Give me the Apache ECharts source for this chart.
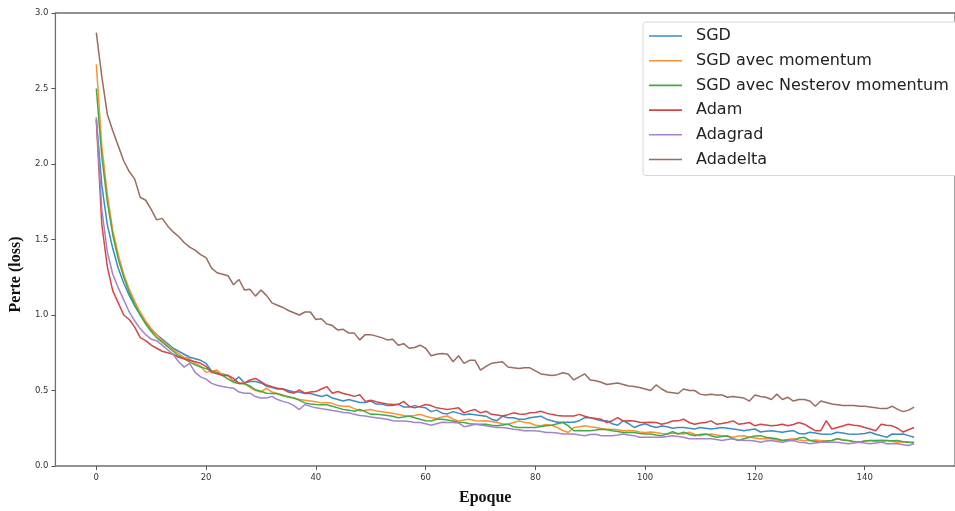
<!DOCTYPE html>
<html>
<head>
<meta charset="utf-8">
<script src="https://cdn.jsdelivr.net/npm/echarts@6/dist/echarts.min.js"></script>
<style>
html,body{margin:0;padding:0;background:#fff;}
#chart{width:955px;height:511px;}
</style>
</head>
<body>
<div id="chart"></div>
<script>
const seriesNames = ["SGD", "SGD avec momentum", "SGD avec Nesterov momentum", "Adam", "Adagrad", "Adadelta"];
const xTicks = [0, 20, 40, 60, 80, 100, 120, 140];
const yTicks = [0.0, 0.5, 1.0, 1.5, 2.0, 2.5, 3.0];

const sgd = [2.30,1.86,1.60,1.44,1.31,1.21,1.13,1.06,1.00,0.95,0.90,0.87,0.84,0.81,0.78,0.76,0.74,0.72,0.71,0.70,
0.68,0.63,0.62,0.61,0.60,0.56,0.59,0.55,0.56,0.56,0.55,0.53,0.52,0.51,0.51,0.50,0.49,0.49,0.48,0.48,
0.47,0.46,0.47,0.45,0.44,0.43,0.44,0.43,0.42,0.42,0.43,0.41,0.41,0.40,0.40,0.41,0.39,0.39,0.40,0.39,
0.385,0.36,0.37,0.35,0.345,0.36,0.35,0.34,0.345,0.34,0.335,0.33,0.31,0.30,0.33,0.32,0.32,0.31,0.31,0.32,
0.325,0.33,0.31,0.30,0.29,0.29,0.29,0.29,0.30,0.32,0.32,0.31,0.30,0.30,0.28,0.27,0.30,0.28,0.255,0.27,
0.28,0.265,0.255,0.265,0.26,0.25,0.255,0.255,0.25,0.245,0.255,0.25,0.245,0.25,0.255,0.25,0.245,0.24,0.234,0.24,
0.245,0.225,0.23,0.234,0.228,0.223,0.23,0.234,0.215,0.212,0.223,0.218,0.212,0.21,0.212,0.223,0.218,0.212,0.21,0.212,
0.215,0.223,0.21,0.201,0.19,0.212,0.21,0.212,0.201,0.19];

const sgdMomentum = [2.66,2.12,1.80,1.56,1.40,1.27,1.17,1.09,1.02,0.96,0.91,0.87,0.83,0.80,0.77,0.745,0.72,0.71,0.68,0.66,
0.62,0.63,0.635,0.60,0.60,0.56,0.55,0.545,0.52,0.50,0.49,0.515,0.49,0.48,0.47,0.455,0.45,0.44,0.435,0.43,
0.425,0.418,0.42,0.415,0.40,0.395,0.396,0.38,0.365,0.37,0.374,0.365,0.36,0.355,0.35,0.342,0.335,0.33,0.335,0.342,
0.33,0.32,0.315,0.325,0.331,0.31,0.298,0.305,0.309,0.30,0.298,0.30,0.295,0.288,0.28,0.277,0.288,0.298,0.29,0.285,
0.27,0.266,0.275,0.27,0.255,0.235,0.222,0.255,0.26,0.266,0.26,0.255,0.248,0.244,0.244,0.24,0.233,0.235,0.233,0.225,
0.222,0.225,0.222,0.215,0.212,0.218,0.215,0.212,0.223,0.21,0.201,0.208,0.212,0.205,0.201,0.195,0.19,0.198,0.20,0.19,
0.185,0.18,0.182,0.18,0.172,0.169,0.175,0.18,0.172,0.169,0.169,0.172,0.169,0.165,0.169,0.18,0.172,0.169,0.162,0.158,
0.165,0.169,0.162,0.158,0.169,0.162,0.158,0.16,0.158,0.15];

const sgdNesterov = [2.50,2.05,1.75,1.53,1.37,1.25,1.15,1.07,1.00,0.94,0.89,0.85,0.82,0.79,0.76,0.73,0.71,0.69,0.67,0.655,
0.645,0.63,0.615,0.60,0.575,0.555,0.547,0.545,0.53,0.505,0.495,0.482,0.48,0.478,0.465,0.458,0.45,0.435,0.418,0.41,
0.407,0.405,0.405,0.396,0.385,0.374,0.37,0.363,0.374,0.36,0.342,0.342,0.34,0.335,0.33,0.32,0.325,0.331,0.32,0.309,
0.30,0.298,0.31,0.31,0.305,0.298,0.29,0.288,0.28,0.277,0.277,0.277,0.27,0.266,0.272,0.277,0.26,0.255,0.255,0.255,
0.255,0.262,0.266,0.27,0.28,0.288,0.266,0.233,0.235,0.233,0.233,0.238,0.244,0.24,0.233,0.228,0.222,0.222,0.222,0.215,
0.212,0.212,0.205,0.201,0.212,0.228,0.212,0.223,0.21,0.201,0.208,0.212,0.20,0.19,0.195,0.201,0.18,0.169,0.18,0.19,
0.198,0.201,0.19,0.185,0.18,0.169,0.172,0.169,0.185,0.19,0.169,0.162,0.158,0.165,0.169,0.18,0.172,0.169,0.16,0.158,
0.165,0.169,0.169,0.17,0.169,0.168,0.169,0.16,0.158,0.158];

const adam = [2.29,1.60,1.32,1.16,1.08,1.00,0.97,0.92,0.85,0.83,0.80,0.78,0.76,0.75,0.74,0.72,0.71,0.70,0.69,0.68,
0.66,0.62,0.61,0.60,0.60,0.58,0.547,0.55,0.57,0.58,0.558,0.536,0.525,0.515,0.51,0.49,0.482,0.504,0.482,0.49,
0.493,0.51,0.526,0.482,0.493,0.48,0.472,0.461,0.472,0.428,0.435,0.425,0.418,0.41,0.407,0.407,0.428,0.396,0.385,0.395,
0.407,0.40,0.385,0.38,0.374,0.38,0.385,0.352,0.365,0.374,0.352,0.363,0.342,0.338,0.331,0.34,0.352,0.345,0.342,0.352,
0.355,0.363,0.35,0.342,0.335,0.331,0.331,0.331,0.342,0.33,0.32,0.315,0.309,0.288,0.30,0.32,0.298,0.30,0.298,0.29,
0.288,0.29,0.288,0.277,0.285,0.298,0.299,0.31,0.288,0.277,0.285,0.288,0.299,0.277,0.282,0.288,0.299,0.277,0.282,0.288,
0.266,0.277,0.272,0.266,0.27,0.277,0.266,0.275,0.288,0.277,0.255,0.234,0.234,0.30,0.245,0.255,0.265,0.277,0.27,0.266,
0.255,0.245,0.234,0.277,0.27,0.266,0.25,0.225,0.24,0.255];

const adagrad = [2.31,1.70,1.42,1.27,1.18,1.10,1.02,0.96,0.91,0.87,0.84,0.83,0.80,0.77,0.74,0.69,0.655,0.68,0.62,0.59,
0.575,0.547,0.535,0.526,0.52,0.515,0.49,0.482,0.482,0.46,0.45,0.45,0.461,0.44,0.428,0.418,0.40,0.374,0.407,0.395,
0.385,0.38,0.374,0.368,0.363,0.355,0.352,0.342,0.335,0.331,0.325,0.32,0.315,0.309,0.30,0.298,0.298,0.295,0.288,0.288,
0.28,0.27,0.28,0.29,0.288,0.288,0.285,0.26,0.266,0.277,0.272,0.266,0.26,0.255,0.255,0.25,0.244,0.24,0.233,0.233,
0.233,0.228,0.222,0.222,0.218,0.212,0.212,0.212,0.205,0.201,0.208,0.21,0.201,0.201,0.201,0.205,0.212,0.205,0.201,0.19,
0.19,0.19,0.19,0.19,0.195,0.201,0.195,0.19,0.18,0.18,0.18,0.18,0.18,0.175,0.169,0.175,0.18,0.172,0.169,0.169,
0.165,0.158,0.165,0.169,0.162,0.158,0.165,0.169,0.158,0.155,0.147,0.152,0.158,0.158,0.158,0.158,0.152,0.147,0.152,0.158,
0.152,0.147,0.152,0.158,0.147,0.147,0.147,0.14,0.136,0.147];

const adadelta = [2.87,2.58,2.33,2.22,2.12,2.02,1.95,1.90,1.78,1.76,1.70,1.63,1.64,1.59,1.55,1.52,1.48,1.45,1.43,1.40,
1.38,1.31,1.28,1.27,1.26,1.20,1.235,1.165,1.17,1.125,1.165,1.13,1.08,1.065,1.05,1.03,1.015,1.00,1.02,1.02,
0.97,0.975,0.94,0.93,0.90,0.905,0.88,0.88,0.835,0.87,0.87,0.86,0.85,0.835,0.84,0.80,0.81,0.78,0.785,0.80,
0.78,0.73,0.74,0.745,0.74,0.69,0.73,0.68,0.70,0.70,0.635,0.66,0.68,0.685,0.69,0.656,0.65,0.645,0.65,0.65,
0.63,0.61,0.605,0.60,0.605,0.617,0.61,0.57,0.59,0.61,0.57,0.565,0.555,0.54,0.545,0.55,0.54,0.53,0.526,0.52,
0.51,0.50,0.537,0.51,0.49,0.485,0.48,0.51,0.50,0.50,0.476,0.47,0.475,0.47,0.47,0.455,0.46,0.455,0.45,0.43,
0.47,0.46,0.455,0.44,0.476,0.44,0.455,0.43,0.44,0.44,0.43,0.396,0.43,0.42,0.41,0.405,0.40,0.40,0.40,0.396,
0.395,0.39,0.385,0.38,0.38,0.396,0.375,0.36,0.37,0.39];

const allValues = [sgd, sgdMomentum, sgdNesterov, adam, adagrad, adadelta];
const colors = ["#3a8cc4", "#fb9233", "#44aa44", "#d64545", "#a384cc", "#9a6c60"];

const chart = echarts.init(document.getElementById('chart'), null, {renderer: 'canvas'});

const series = seriesNames.map((name, k) => ({
  name: name,
  type: 'line',
  data: allValues[k].map((v, i) => [i, v]),
  symbol: 'none',
  showSymbol: false,
  lineStyle: {width: 1.5, color: colors[k]},
  itemStyle: {color: colors[k]},
  emphasis: {disabled: true},
  animation: false,
  z: 2 + k
}));

const axisFont = {fontFamily: 'DejaVu Sans', fontSize: 8.5, color: '#333'};

chart.setOption({
  animation: false,
  backgroundColor: '#ffffff',
  grid: {
    left: 53, top: 13, right: -11, bottom: 35,
    show: true, borderColor: '#6e6e6e', borderWidth: 1.3, backgroundColor: 'transparent'
  },
  legend: {
    orient: 'vertical',
    left: 643,
    top: 22,
    padding: [6, 30, 8, 6],
    icon: 'rect',
    itemWidth: 33,
    itemHeight: 1.6,
    itemGap: 8.7,
    backgroundColor: '#ffffff',
    borderColor: '#d6d6d6',
    borderWidth: 1,
    borderRadius: 3,
    textStyle: {fontFamily: 'DejaVu Sans', fontSize: 16, color: '#222', lineHeight: 16, padding: [0, 0, 0, 9]},
    data: seriesNames.map(n => ({name: n}))
  },
  xAxis: {
    type: 'value',
    min: -7.45,
    max: 156.45,
    name: 'Epoque',
    nameLocation: 'middle',
    nameGap: 24,
    nameTextStyle: {fontFamily: 'Liberation Serif', fontWeight: 'bold', fontSize: 16, color: '#111', padding: [0, 40, 0, 0]},
    axisLine: {show: false, onZero: false},
    axisTick: {show: true, customValues: xTicks, length: 4, lineStyle: {color: '#555', width: 1}},
    axisLabel: {show: true, customValues: xTicks, ...axisFont, margin: 7},
    splitLine: {show: false}
  },
  yAxis: {
    type: 'value',
    min: 0,
    max: 3,
    interval: 0.5,
    name: 'Perte (loss)',
    nameLocation: 'middle',
    nameGap: 30,
    nameRotate: 90,
    nameTextStyle: {fontFamily: 'Liberation Serif', fontWeight: 'bold', fontSize: 16, color: '#111', padding: [0, 70, 0, 0]},
    axisLine: {show: false, onZero: false},
    axisTick: {show: true, length: 4, lineStyle: {color: '#555', width: 1}},
    axisLabel: {show: true, ...axisFont, margin: 7, formatter: v => v.toFixed(1)},
    splitLine: {show: false}
  },
  series: series
});
</script>
</body>
</html>
